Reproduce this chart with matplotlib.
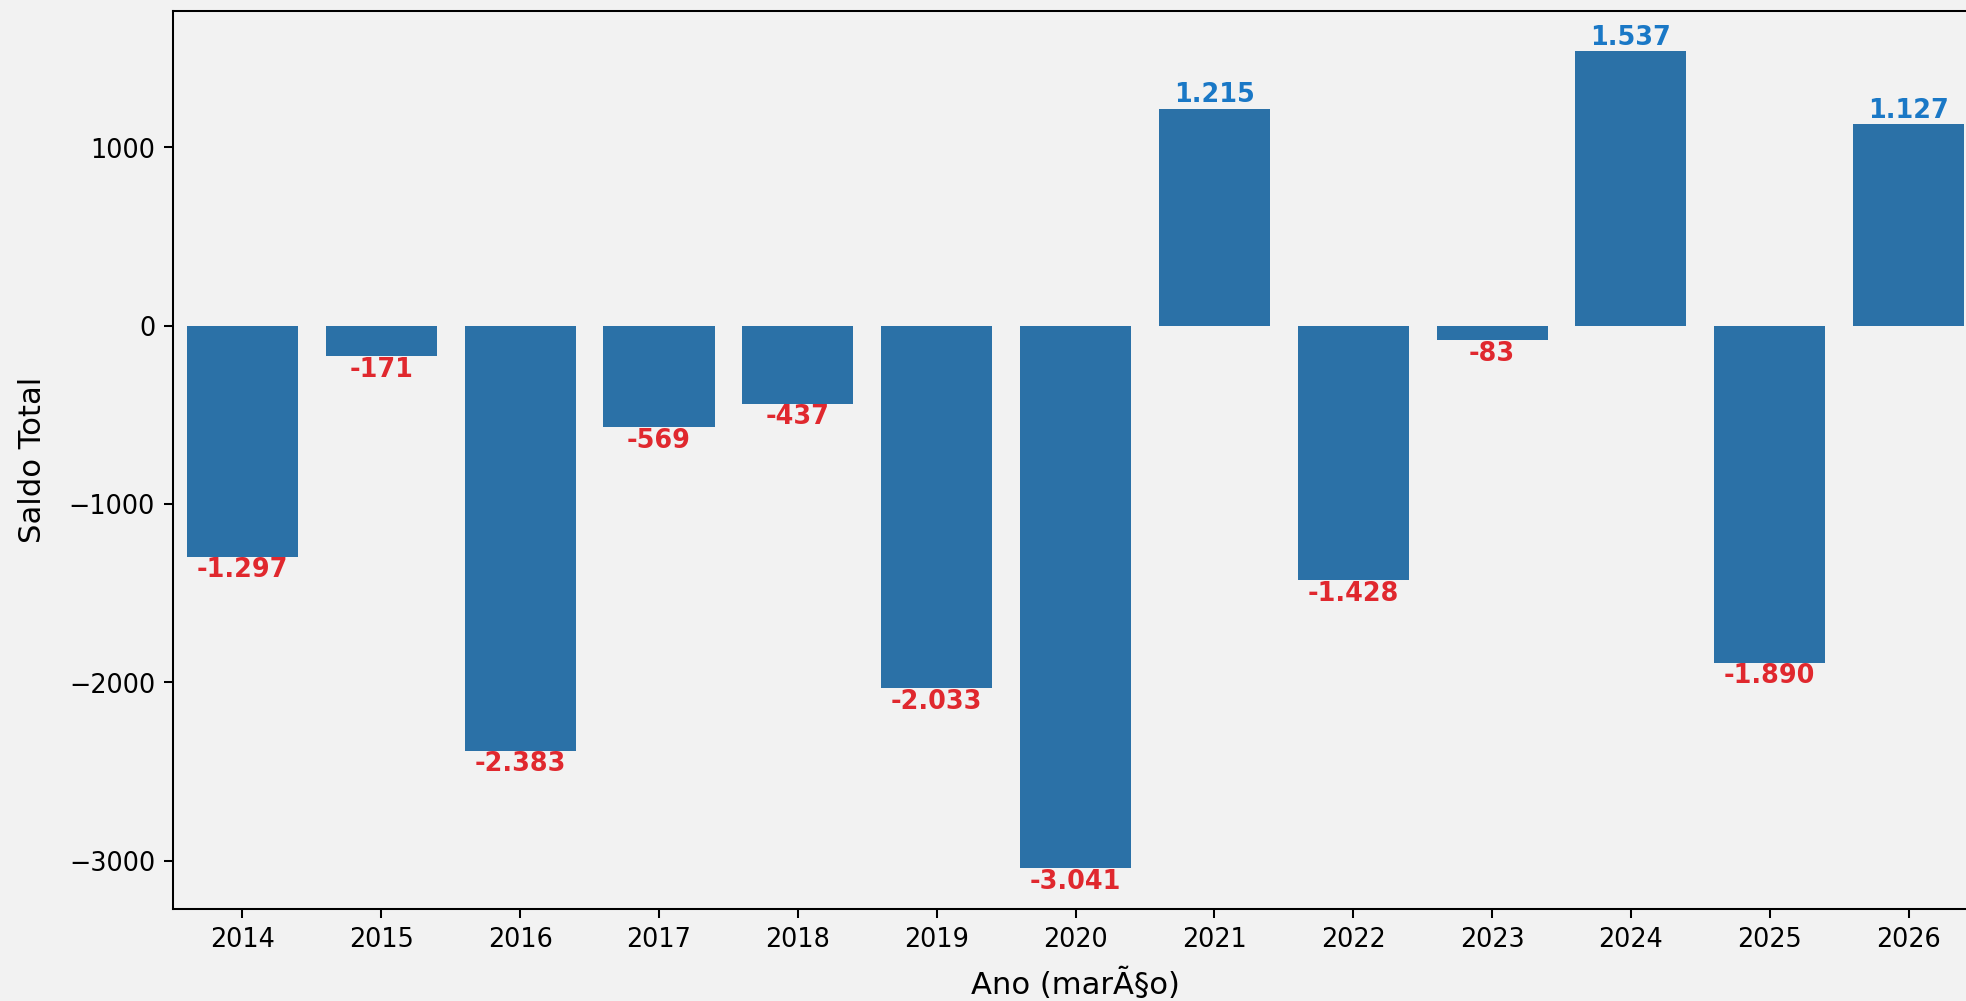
import numpy as np
import matplotlib
matplotlib.use('Agg')
from matplotlib import pyplot as plt

anos = ['2014', '2015', '2016', '2017', '2018', '2019', '2020',
        '2021', '2022', '2023', '2024', '2025', '2026']
saldo = [-1297, -171, -2383, -569, -437, -2033, -3041,
         1215, -1428, -83, 1537, -1890, 1127]

bg = '#f2f2f2'
cor_barra = '#2b71a7'
cor_pos = '#1a78c6'
cor_neg = '#e0282e'

dpi = 184
fig = plt.figure(figsize=(1966.5 / dpi, 1001.5 / dpi), dpi=dpi, facecolor=bg)
# axes runs past the right edge, like the cropped original
ax = fig.add_axes([173 / 1966, 92 / 1001, 1804.5 / 1966, 898 / 1001])
ax.set_facecolor(bg)

x = np.arange(len(anos))
ax.bar(x, saldo, width=0.8, color=cor_barra)
ax.set_xlim(-0.5, len(anos) - 0.5)
ax.set_xticks(x)
ax.set_xticklabels(anos)

def fmt(v):
    return f'{v:,}'.replace(',', '.')

for xi, v in zip(x, saldo):
    if v >= 0:
        ax.annotate(fmt(v), (xi, v), xytext=(0, 0.5), textcoords='offset points',
                    ha='center', va='bottom', color=cor_pos, fontsize=10, fontweight='bold')
    else:
        ax.annotate(fmt(v), (xi, v), xytext=(0, 0), textcoords='offset points',
                    ha='center', va='top', color=cor_neg, fontsize=10, fontweight='bold')

ax.set_xlabel('Ano (marÃ§o)', fontsize=12, labelpad=5.5)
ax.set_ylabel('Saldo Total', fontsize=12, labelpad=8.5)
ax.tick_params(labelsize=10)

fig.savefig('out.png', dpi=dpi, facecolor=bg)
